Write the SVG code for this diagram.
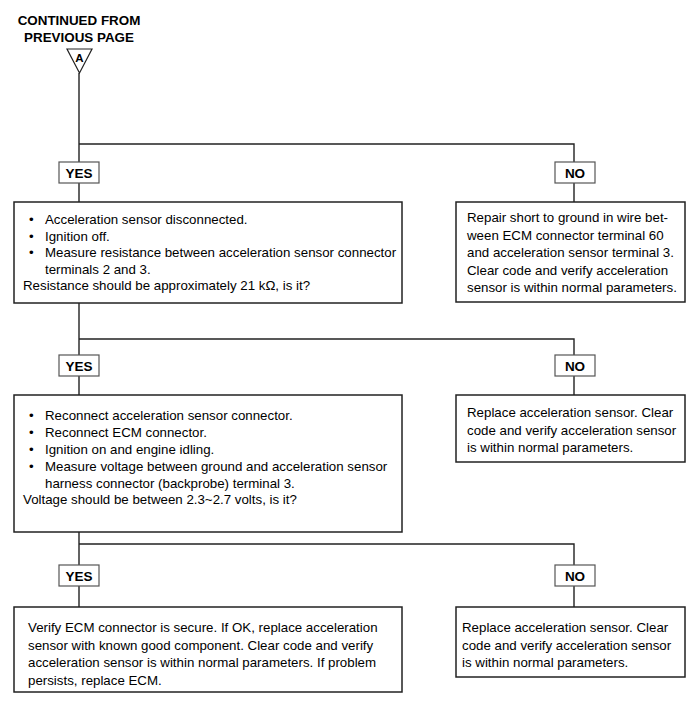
<svg xmlns="http://www.w3.org/2000/svg" width="700" height="709" viewBox="0 0 700 709">
<style>
text{font-family:"Liberation Sans",Arial,sans-serif;fill:#000}
.t{font-size:13.3px}
.title{font-size:13.4px;font-weight:bold;text-anchor:middle}
.lab{font-size:13.5px;font-weight:bold;text-anchor:middle}
.box{fill:#fff;stroke:#222;stroke-width:1.5}
.tag{fill:#fff;stroke:#555;stroke-width:1.2}
.ln{fill:none;stroke:#222;stroke-width:1.4}
</style>
<rect width="700" height="709" fill="#fff"/>
<g id="header">
<text class="title" x="79" y="25">CONTINUED FROM</text>
<text class="title" x="79" y="42">PREVIOUS PAGE</text>
<polygon points="67,49 92,49 79.5,73" fill="#fff" stroke="#222" stroke-width="1.2"/>
<text x="79.5" y="62" style="font-size:11.5px;font-weight:bold;text-anchor:middle">A</text>
</g>
<g id="connectors">
<path class="ln" d="M79,73 V202 M79,144 H574 V202"/>
<path class="ln" d="M79,303 V395 M79,339 H574 V395"/>
<path class="ln" d="M79,532 V607 M79,544 H574 V607"/>
</g>
<g id="yes1"><rect class="tag" x="59" y="162" width="40" height="21"/><text class="lab" x="79" y="177.5">YES</text></g>
<g id="no1"><rect class="tag" x="555" y="162" width="40" height="21"/><text class="lab" x="575" y="177.5">NO</text></g>
<g id="check1">
<rect class="box" x="14" y="202" width="388" height="101"/>
<text class="t" x="29" y="224">•</text><text class="t" x="45" y="224">Acceleration sensor disconnected.</text>
<text class="t" x="29" y="240.5">•</text><text class="t" x="45" y="240.5">Ignition off.</text>
<text class="t" x="29" y="257">•</text><text class="t" x="45" y="257">Measure resistance between acceleration sensor connector</text>
<text class="t" x="45" y="273.5">terminals 2 and 3.</text>
<text class="t" x="23" y="290">Resistance should be approximately 21 kΩ, is it?</text>
</g>
<g id="repair1">
<rect class="box" x="456" y="202" width="229" height="100"/>
<text class="t" x="467" y="222">Repair short to ground in wire bet-</text>
<text class="t" x="467" y="239.5">ween ECM connector terminal 60</text>
<text class="t" x="467" y="257">and acceleration sensor terminal 3.</text>
<text class="t" x="467" y="274.5">Clear code and verify acceleration</text>
<text class="t" x="467" y="292">sensor is within normal parameters.</text>
</g>
<g id="yes2"><rect class="tag" x="59" y="355" width="40" height="21"/><text class="lab" x="79" y="370.5">YES</text></g>
<g id="no2"><rect class="tag" x="555" y="355" width="40" height="21"/><text class="lab" x="575" y="370.5">NO</text></g>
<g id="check2">
<rect class="box" x="14" y="395" width="388" height="137"/>
<text class="t" x="29" y="420">•</text><text class="t" x="45" y="420">Reconnect acceleration sensor connector.</text>
<text class="t" x="29" y="437">•</text><text class="t" x="45" y="437">Reconnect ECM connector.</text>
<text class="t" x="29" y="454">•</text><text class="t" x="45" y="454">Ignition on and engine idling.</text>
<text class="t" x="29" y="471">•</text><text class="t" x="45" y="471">Measure voltage between ground and acceleration sensor</text>
<text class="t" x="45" y="488">harness connector (backprobe) terminal 3.</text>
<text class="t" x="23" y="504">Voltage should be between 2.3~2.7 volts, is it?</text>
</g>
<g id="replace2">
<rect class="box" x="456" y="395" width="229" height="67"/>
<text class="t" x="467" y="417">Replace acceleration sensor. Clear</text>
<text class="t" x="467" y="434.5">code and verify acceleration sensor</text>
<text class="t" x="467" y="452">is within normal parameters.</text>
</g>
<g id="yes3"><rect class="tag" x="59" y="565" width="40" height="21"/><text class="lab" x="79" y="580.5">YES</text></g>
<g id="no3"><rect class="tag" x="555" y="565" width="40" height="21"/><text class="lab" x="575" y="580.5">NO</text></g>
<g id="final3">
<rect class="box" x="14" y="607" width="388" height="85"/>
<text class="t" x="28" y="632">Verify ECM connector is secure. If OK, replace acceleration</text>
<text class="t" x="28" y="649.5">sensor with known good component. Clear code and verify</text>
<text class="t" x="28" y="667">acceleration sensor is within normal parameters. If problem</text>
<text class="t" x="28" y="684.5">persists, replace ECM.</text>
</g>
<g id="replace3">
<rect class="box" x="456" y="607" width="229" height="70"/>
<text class="t" x="462" y="632">Replace acceleration sensor. Clear</text>
<text class="t" x="462" y="649.5">code and verify acceleration sensor</text>
<text class="t" x="462" y="667">is within normal parameters.</text>
</g>
</svg>
